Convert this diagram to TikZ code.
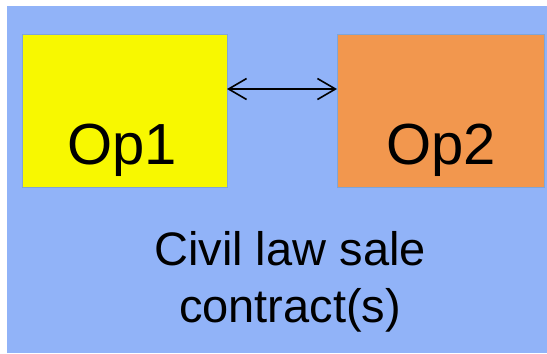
\documentclass[tikz,border=0pt]{standalone}
\usepackage{fontspec}
\setmainfont{Liberation Sans}
\usetikzlibrary{arrows.meta}
\definecolor{panelblue}{RGB}{145,179,248}
\definecolor{opyellow}{RGB}{248,248,0}
\definecolor{oporange}{RGB}{242,151,78}
\definecolor{opedge}{RGB}{128,165,215}
\tikzset{
  opbox/.style={draw=opedge, line width=0.8bp, minimum height=153bp,
    inner sep=0pt, outer sep=0pt},
  optext/.style={anchor=base, inner sep=0pt, font=\fontsize{58bp}{70bp}\selectfont},
  link/.style={line width=1.6bp, {Straight Barb[length=18bp,width=21bp,line width=1.6bp]}-{Straight Barb[length=18bp,width=21bp,line width=1.6bp]}}
}
\begin{document}
\begin{tikzpicture}[x=1bp, y=-1bp]
  \useasboundingbox (0,0) rectangle (547,353);
  % panel
  \fill[panelblue] (7,6) rectangle (547,353);
  % the two operators
  \node[opbox, fill=opyellow, minimum width=205bp] (op1) at (124.5,110.5) {};
  \node[opbox, fill=oporange, minimum width=207bp] (op2) at (440.5,110.5) {};
  \node[optext] (op1t) at (122,164) {Op1};
  \node[optext] (op2t) at (441,164) {Op2};
  % link between them
  \draw[link] ([yshift=21.5bp]op1.east) -- ([yshift=21.5bp]op2.west);
  % caption (base anchor sits on the last line)
  \node[anchor=base, align=center, inner sep=0pt, font=\fontsize{47bp}{57bp}\selectfont]
    (caption) at (290,322) {Civil law sale\\contract(s)};
\end{tikzpicture}
\end{document}
